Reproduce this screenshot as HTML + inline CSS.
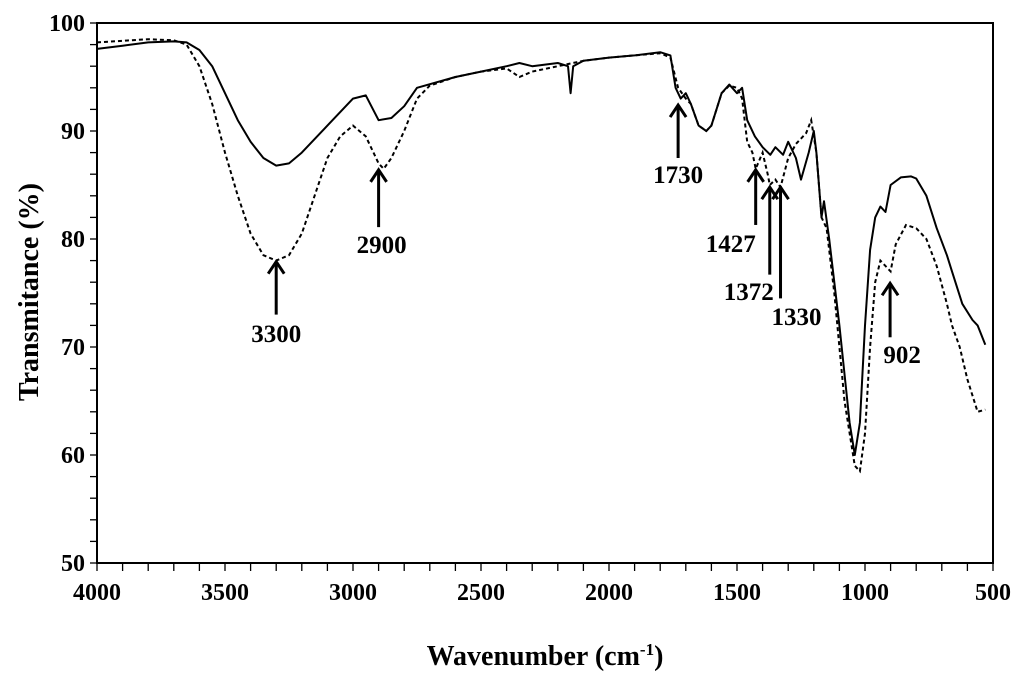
<!DOCTYPE html>
<html><head><meta charset="utf-8"><style>
body{margin:0;background:#fff;}
svg text{font-family:"Liberation Serif",serif;font-weight:bold;fill:#000;}
</style></head><body>
<svg id="chart" width="1024" height="678" xmlns="http://www.w3.org/2000/svg">
<g id="axes"></g><g id="series"></g><g id="notes"></g>
<text x="545" y="665" font-size="28" text-anchor="middle">Wavenumber (cm<tspan dy="-10" font-size="17">-1</tspan><tspan dy="10">)</tspan></text>
<text transform="translate(38,292) rotate(-90)" font-size="28" text-anchor="middle">Transmitance  (%)</text>
</svg>
<script>
const xTicks=[4000,3500,3000,2500,2000,1500,1000,500];
const yTicks=[50,60,70,80,90,100];
const solidWn=[4000,3900,3800,3700,3650,3600,3550,3500,3450,3400,3350,3300,3250,3200,3100,3000,2950,2900,2850,2800,2750,2600,2500,2400,2350,2300,2200,2160,2150,2140,2100,2000,1900,1800,1760,1740,1720,1700,1680,1650,1620,1600,1560,1530,1500,1480,1460,1430,1400,1370,1350,1320,1300,1270,1250,1220,1200,1190,1170,1160,1140,1100,1060,1040,1020,1000,980,960,940,920,900,860,820,800,760,720,680,660,620,580,560,530];
const solidT=[97.6,97.9,98.2,98.3,98.2,97.5,96,93.5,91,89,87.5,86.8,87,88,90.5,93,93.3,91,91.2,92.3,94,95,95.5,96,96.3,96,96.3,96,93.5,96,96.5,96.8,97,97.3,97,94,93,93.5,92.5,90.5,90,90.5,93.5,94.3,93.5,94,91,89.5,88.5,87.8,88.5,87.8,89,87.5,85.5,88,90,88,82,83.5,80,72,63,60,63,72,79,82,83,82.5,85,85.7,85.8,85.6,84,81,78.5,77,74,72.5,72,70.2];
const dashWn=[4000,3800,3700,3650,3600,3550,3500,3450,3400,3350,3300,3250,3200,3150,3100,3050,3000,2950,2900,2880,2850,2800,2750,2700,2600,2500,2400,2350,2300,2200,2100,2000,1900,1800,1760,1730,1700,1680,1650,1620,1600,1560,1530,1500,1480,1460,1440,1427,1400,1380,1372,1350,1330,1300,1270,1230,1210,1190,1170,1150,1120,1080,1040,1020,1000,980,960,940,920,900,880,840,800,760,720,680,660,630,600,560,530];
const dashT=[98.2,98.5,98.4,98,96,92.5,88,84,80.5,78.5,78,78.5,80.5,84,87.5,89.5,90.5,89.5,87,86.5,87.5,90,93,94.2,95,95.5,95.8,95,95.5,96,96.5,96.8,97,97.2,96.8,94,93,92.5,90.5,90,90.5,93.5,94.2,94,93,89,88,86.5,88,86,85,85.5,84.8,87.5,88.8,89.8,91,88,82,81,75,65,59,58.5,62,70,76,78,77.5,77,79.5,81.3,81,80,77.5,74,72,70,67,64,64.2];
const noteLabels=["3300","2900","1730","1427","1372","1330","902"];
const noteWn=[3300,2900,1730,1427,1372,1330,902];
const noteTip=[77.9,86.4,92.4,86.4,84.8,84.8,75.9];
const noteLen=[4.9,5.3,4.9,5.1,8.1,10.3,5.0];
// label placement (layout only, pixels)
const labelDx=[0,3,0,-25,-21,16,12];
const labelY=[342,253,183,252,300,325,363];
const L=97,R=993,T=23,B=563;
const X=w=>L+(4000-w)*(R-L)/3500, Y=v=>T+(100-v)*(B-T)/50;
const NS="http://www.w3.org/2000/svg";
function mk(p,t,a){const e=document.createElementNS(NS,t);for(const k in a)e.setAttribute(k,a[k]);p.appendChild(e);return e;}
const ax=document.getElementById('axes');
let f=mk(ax,'rect',{x:L,y:T,width:R-L,height:B-T,fill:'none',stroke:'#000','stroke-width':2});


for(let w=4000;w>=500;w-=100){const l=mk(ax,'line',{x1:X(w),x2:X(w),y1:B,y2:B+8,stroke:'#000','stroke-width':1.3});

}
for(let v=50;v<=100;v+=2){const l=mk(ax,'line',{x1:L-7,x2:L,y1:Y(v),y2:Y(v),stroke:'#000','stroke-width':1.3});

}
xTicks.forEach(w=>{const t=mk(ax,'text',{x:X(w),y:B+37,'font-size':24,'text-anchor':'middle'});t.textContent=w;

});
yTicks.forEach(v=>{const t=mk(ax,'text',{x:L-12,y:Y(v)+8,'font-size':24,'text-anchor':'end'});t.textContent=v;

});
const sg=document.getElementById('series');
const pts=(a,b)=>a.map((w,i)=>X(w).toFixed(1)+','+Y(b[i]).toFixed(1)).join(' ');
let p1=mk(sg,'polyline',{points:pts(solidWn,solidT),fill:'none',stroke:'#000','stroke-width':2,'stroke-linejoin':'round'});


let p2=mk(sg,'polyline',{points:pts(dashWn,dashT),fill:'none',stroke:'#000','stroke-width':2,'stroke-dasharray':'4,3'});


const ng=document.getElementById('notes');
noteLabels.forEach((s,i)=>{const x=X(noteWn[i]),y1=Y(noteTip[i]),y2=Y(noteTip[i]-noteLen[i]);
const g=mk(ng,'g',{});


mk(g,'line',{x1:x,x2:x,y1:y1+2,y2:y2,stroke:'#000','stroke-width':3});
mk(g,'polyline',{points:`${x-8},${y1+12} ${x},${y1} ${x+8},${y1+12}`,fill:'none',stroke:'#000','stroke-width':3});
const t=mk(g,'text',{x:x+labelDx[i],y:labelY[i],'font-size':25,'text-anchor':'middle'});t.textContent=s;});
</script>
</body></html>
